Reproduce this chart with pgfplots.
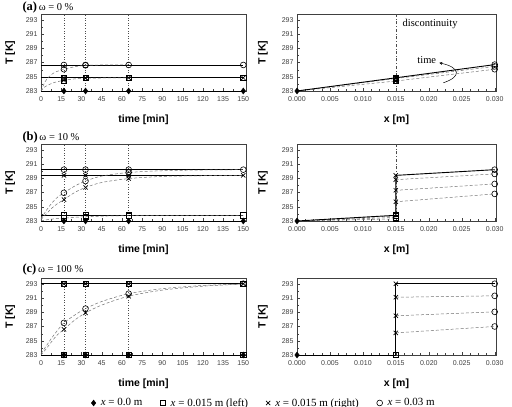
\documentclass[border=0pt]{standalone}
\usepackage{fontspec}
\setmainfont{Liberation Serif}
\setsansfont{Liberation Sans}
\usepackage{pgfplots}
\pgfplotsset{compat=1.18}
\usetikzlibrary{arrows.meta}

\pgfplotsset{
  base/.style={scale only axis, axis line style={black!75}, tick style={black!75},
    tick pos=left, tick align=inside, major tick length=3pt, minor tick length=1.8pt,
    ymin=283, ymax=293.8, ytick={283,285,287,289,291,293}, minor y tick num=1,
    tick label style={font=\sffamily\fontsize{7}{8}\selectfont, text=black!75},
    /pgf/number format/assume math mode=true,
    label style={font=\sffamily\bfseries\fontsize{10.5}{12}\selectfont},
    ylabel={T [K]},
    xlabel style={at={(axis description cs:0.5,0)},anchor=center,yshift=-29pt},
    xticklabel style={yshift=-2pt},
    clip=false, height=77pt},
  tl/.style={base, width=205pt, xmin=0, xmax=152, xtick={0,15,...,150}, minor x tick num=1,
    xlabel={time [min]},
    ylabel style={at={(axis description cs:-0.151,0.5)},anchor=center}},
  xr/.style={base, width=199pt, xmin=0, xmax=0.0302,
    xtick={0,0.005,0.01,0.015,0.02,0.025,0.03}, minor x tick num=3, scaled x ticks=false,
    xticklabel style={/pgf/number format/.cd, fixed, fixed zerofill, precision=3},
    xlabel={x [m]},
    ylabel style={at={(axis description cs:-0.171,0.5)},anchor=center}},
  stead/.style={black, line width=0.9pt, mark=none},
  trans/.style={black!55, dash pattern=on 3pt off 2pt, line width=0.5pt, mark=none},
  mD/.style={only marks, mark=diamond*, mark size=3pt, mark options={black, fill=black, solid}},
  mS/.style={only marks, mark=square, mark size=2.6pt, mark options={black, solid, line width=0.6pt}},
  mX/.style={only marks, mark=x, mark size=3pt, mark options={black, solid, line width=0.7pt}},
  mO/.style={only marks, mark=o, mark size=2.9pt, mark options={black, solid, line width=0.6pt}},
  vdot/.style={black!70, dotted, line width=0.6pt},
  vdd/.style={black!70, dash dot, line width=0.6pt},
}

\begin{document}
\begin{tikzpicture}
\useasboundingbox (0,0) rectangle (512pt,407pt);

% titles
\node[anchor=west] at (19pt,400pt) {{\fontsize{12.5}{13}\selectfont\bfseries (a)}\,{\fontsize{10.5}{12}\selectfont ω = 0 \%}};
\node[anchor=west] at (19pt,270pt) {{\fontsize{12.5}{13}\selectfont\bfseries (b)}\,{\fontsize{10.5}{12}\selectfont ω = 10 \%}};
\node[anchor=west] at (19pt,138pt) {{\fontsize{12.5}{13}\selectfont\bfseries (c)}\,{\fontsize{10.5}{12}\selectfont ω = 100 \%}};

% ================= (a) left
\begin{axis}[tl, at={(41pt,316pt)}, anchor=south west]
\addplot[vdot] coordinates {(17,283) (17,293.8)};
\addplot[vdot] coordinates {(33,283) (33,293.8)};
\addplot[vdot] coordinates {(65,283) (65,293.8)};
\addplot[stead] coordinates {(0,283) (150,283)};
\addplot[stead] coordinates {(0,284.85) (150,284.85)};
\addplot[stead] coordinates {(0,286.65) (150,286.65)};
\addplot[trans, smooth] coordinates {(0,283) (3,284.3) (6,285.0) (10,285.6) (17,286.05) (25,286.4) (33,286.6) (45,286.65) (65,286.65)};
\addplot[trans, smooth] coordinates {(0,283) (3,283.6) (6,283.9) (10,284.2) (17,284.5) (25,284.7) (33,284.8) (65,284.85)};
\addplot[mD] coordinates {(17,283) (33,283) (65,283) (150,283)};
\addplot[mS] coordinates {(17,284.85) (33,284.85) (65,284.85) (150,284.85) (17,284.5) (33,284.8)};
\addplot[mX] coordinates {(17,284.85) (33,284.85) (65,284.85) (150,284.85) (17,284.5) (33,284.8)};
\addplot[mO] coordinates {(17,286.65) (33,286.65) (65,286.65) (150,286.65) (17,286.05) (33,286.6)};
\end{axis}

% ================= (a) right
\begin{axis}[xr, at={(297pt,316pt)}, anchor=south west]
\addplot[vdd] coordinates {(0.015,283) (0.015,293.8)};
\addplot[trans] coordinates {(0,283) (0.015,284.4) (0.03,286.05)};
\addplot[trans] coordinates {(0,283) (0.015,284.75) (0.03,286.45)};
\addplot[stead] coordinates {(0,283) (0.015,284.85) (0.03,286.7)};
\addplot[mD] coordinates {(0,283)};
\addplot[mS] coordinates {(0.015,284.85) (0.015,284.75) (0.015,284.4)};
\addplot[mX] coordinates {(0.015,284.85) (0.015,284.75) (0.015,284.4)};
\addplot[mO] coordinates {(0.03,286.7) (0.03,286.45) (0.03,286.05)};
\node[anchor=west, font=\fontsize{10.5}{12}\selectfont] at (axis cs:0.0155,292.4) {discontinuity};
\node[font=\fontsize{10.5}{12}\selectfont] at (axis cs:0.0197,287.4) {time};
\draw[black, line width=0.5pt, -{Stealth[length=3pt,width=3pt]}] (axis cs:0.0222,284.15) .. controls (axis cs:0.0250,285.0) and (axis cs:0.0248,286.3) .. (axis cs:0.0216,286.95);
\end{axis}

% ================= (b) left
\begin{axis}[tl, at={(41pt,186pt)}, anchor=south west]
\addplot[vdot] coordinates {(17,283) (17,293.8)};
\addplot[vdot] coordinates {(33,283) (33,293.8)};
\addplot[vdot] coordinates {(65,283) (65,293.8)};
\addplot[stead] coordinates {(0,283) (150,283)};
\addplot[stead] coordinates {(0,283.8) (150,283.8)};
\addplot[stead] coordinates {(0,289.4) (150,289.4)};
\addplot[stead] coordinates {(0,290.2) (150,290.2)};
\addplot[trans, smooth] coordinates {(0,283.3) (4,284.5) (8,285.5) (12,286.3) (17,286.95) (25,287.9) (33,288.6) (45,289.3) (65,289.8) (90,290.05) (120,290.15) (150,290.2)};
\addplot[trans, smooth] coordinates {(0,283.2) (4,284.0) (8,284.8) (12,285.4) (17,286.0) (25,287.0) (33,287.7) (45,288.4) (65,288.95) (90,289.25) (120,289.35) (150,289.4)};
\addplot[trans, smooth] coordinates {(0,283.0) (5,283.2) (10,283.3) (17,283.4) (33,283.6) (65,283.75) (150,283.8)};
\addplot[mD] coordinates {(17,283) (33,283) (65,283) (150,283)};
\addplot[mS] coordinates {(17,283.8) (33,283.8) (65,283.8) (150,283.8) (17,283.4) (33,283.6) (65,283.75)};
\addplot[mX] coordinates {(17,289.4) (33,289.4) (65,289.4) (150,289.4) (17,286.0) (33,287.7) (65,288.95)};
\addplot[mO] coordinates {(17,290.2) (33,290.2) (65,290.2) (150,290.2) (17,286.95) (33,288.6) (65,289.8)};
\end{axis}

% ================= (b) right
\begin{axis}[xr, at={(297pt,186pt)}, anchor=south west]
\addplot[vdd] coordinates {(0.015,283) (0.015,293.8)};
\addplot[trans] coordinates {(0,283) (0.015,283.3) (0.015,285.7) (0.03,286.8)};
\addplot[trans] coordinates {(0,283) (0.015,283.5) (0.015,287.3) (0.03,288.2)};
\addplot[trans] coordinates {(0,283) (0.015,283.7) (0.015,288.8) (0.03,289.6)};
\addplot[stead] coordinates {(0,283) (0.015,283.8) (0.015,289.4) (0.03,290.2)};
\addplot[mD] coordinates {(0,283)};
\addplot[mS] coordinates {(0.015,283.3) (0.015,283.5) (0.015,283.7) (0.015,283.8)};
\addplot[mX] coordinates {(0.015,289.4) (0.015,288.8) (0.015,287.3) (0.015,285.7)};
\addplot[mO] coordinates {(0.03,290.2) (0.03,289.6) (0.03,288.2) (0.03,286.8)};
\end{axis}

% ================= (c) left
\begin{axis}[tl, at={(41pt,52pt)}, anchor=south west,
  legend style={at={(1.088,-0.623)}, anchor=center, draw=none, fill=none,
    font=\fontsize{11}{12}\selectfont, legend columns=4,
    /tikz/every odd column/.append style={column sep=3pt},
    /tikz/every even column/.append style={column sep=16pt}},
  legend cell align=left]
\addlegendimage{mD}\addlegendentry{\textit{x} = 0.0 m}
\addlegendimage{mS}\addlegendentry{\textit{x} = 0.015 m (left)}
\addlegendimage{mX}\addlegendentry{\textit{x} = 0.015 m (right)}
\addlegendimage{mO}\addlegendentry{\textit{x} = 0.03 m}
\addplot[vdot] coordinates {(17,283) (17,293)};
\addplot[vdot] coordinates {(33,283) (33,293)};
\addplot[vdot] coordinates {(65,283) (65,293)};
\addplot[stead] coordinates {(0,283) (150,283)};
\addplot[stead] coordinates {(0,293) (150,293)};
\addplot[trans, smooth] coordinates {(0,283.2) (4,284.3) (8,285.4) (12,286.4) (17,287.5) (25,288.6) (33,289.5) (45,290.5) (65,291.6) (90,292.3) (120,292.75) (150,292.95)};
\addplot[trans, smooth] coordinates {(0,283) (4,283.9) (8,284.9) (12,285.8) (17,286.6) (25,287.9) (33,288.9) (45,290.0) (65,291.25) (90,292.1) (120,292.65) (150,292.95)};
\addplot[mD] coordinates {(17,283) (33,283) (65,283) (150,283)};
\addplot[mS] coordinates {(17,283) (33,283) (65,283) (150,283) (17,293) (33,293) (65,293) (150,293)};
\addplot[mX] coordinates {(17,293) (33,293) (65,293) (150,293) (17,286.6) (33,288.9) (65,291.25)};
\addplot[mO] coordinates {(150,293) (17,287.5) (33,289.5) (65,291.6)};
\end{axis}

% ================= (c) right
\begin{axis}[xr, at={(297pt,52pt)}, anchor=south west]
\addplot[trans] coordinates {(0.015,291.1) (0.03,291.3)};
\addplot[trans] coordinates {(0.015,288.5) (0.03,289.05)};
\addplot[trans] coordinates {(0.015,286.1) (0.03,287.0)};
\addplot[stead] coordinates {(0,283) (0.015,283) (0.015,293) (0.03,293)};
\addplot[mD] coordinates {(0,283)};
\addplot[mS] coordinates {(0.015,283)};
\addplot[mX] coordinates {(0.015,293) (0.015,291.1) (0.015,288.5) (0.015,286.1)};
\addplot[mO] coordinates {(0.03,293) (0.03,291.3) (0.03,289.05) (0.03,287.0)};
\end{axis}
\end{tikzpicture}
\end{document}
